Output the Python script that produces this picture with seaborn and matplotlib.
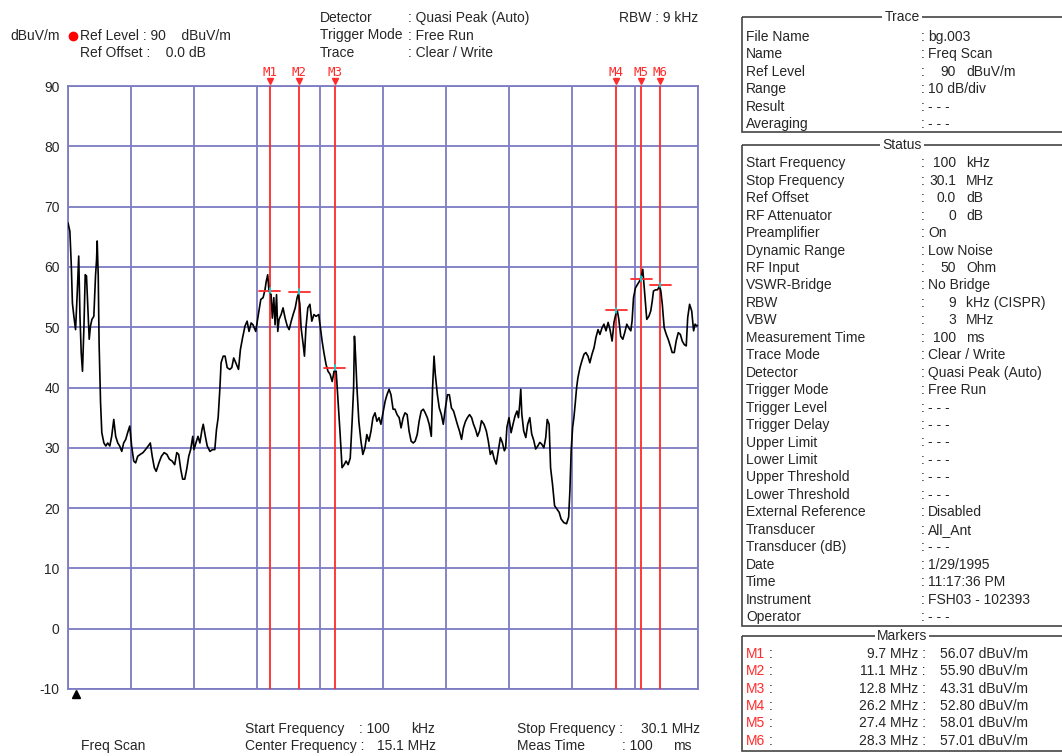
import numpy as np
import pandas as pd
import matplotlib
matplotlib.use("Agg")
import matplotlib.pyplot as plt
from matplotlib.patches import Rectangle
import seaborn as sns

# trace, (frequency MHz, level dBuV/m)
trace_low = [(0.10, 67.3), (0.19, 65.9), (0.26, 60.0), (0.31, 54.0), (0.38, 51.8), (0.46, 49.6), (0.54, 55.7),
             (0.61, 61.8), (0.67, 51.8), (0.73, 45.7), (0.79, 42.7), (0.86, 50.2), (0.92, 58.7), (0.98, 58.5),
             (1.05, 53.0), (1.11, 48.0), (1.17, 50.2), (1.24, 51.3), (1.33, 51.8), (1.41, 58.5), (1.46, 61.2),
             (1.49, 64.3), (1.54, 58.5), (1.58, 47.4), (1.65, 37.5), (1.71, 32.5), (1.81, 30.8), (1.90, 30.3),
             (1.99, 30.8), (2.09, 30.3), (2.18, 31.9), (2.28, 34.7), (2.37, 31.9), (2.47, 30.8), (2.56, 30.3),
             (2.66, 29.4), (2.75, 30.8), (2.85, 31.4), (2.94, 32.5), (3.04, 33.6), (3.13, 30.3), (3.23, 27.8),
             (3.32, 27.5), (3.42, 28.6), (3.54, 28.9), (3.67, 29.2), (3.79, 29.7), (3.92, 30.3), (4.02, 30.8),
             (4.11, 28.6), (4.21, 26.7), (4.30, 26.1), (4.43, 27.5), (4.55, 28.6), (4.68, 29.2), (4.81, 28.9),
             (4.93, 28.1), (5.06, 27.8), (5.18, 27.2), (5.28, 29.2), (5.37, 28.9), (5.47, 26.4), (5.56, 24.8),
             (5.66, 24.8), (5.75, 26.4), (5.85, 28.6), (5.94, 29.7), (6.04, 31.9), (6.10, 29.7), (6.19, 30.8),
             (6.29, 31.9), (6.38, 30.8), (6.48, 33.0), (6.54, 33.9), (6.64, 31.9), (6.73, 30.3), (6.86, 29.4),
             (6.98, 29.7), (7.09, 29.7), (7.17, 33.0), (7.25, 35.0), (7.33, 39.7), (7.39, 44.1), (7.49, 45.2),
             (7.58, 45.2), (7.68, 43.3), (7.80, 43.0), (7.90, 43.3), (7.99, 44.9), (8.09, 44.1), (8.22, 43.0),
             (8.31, 46.3), (8.41, 48.2), (8.53, 50.2), (8.63, 51.0), (8.72, 49.3), (8.82, 50.7), (8.91, 50.4),
             (9.04, 49.3), (9.15, 51.8)]
trace_mid = [(9.28, 54.6), (9.39, 54.9), (9.48, 56.2), (9.54, 57.6), (9.61, 58.7), (9.67, 56.0), (9.77, 55.4),
             (9.83, 51.5), (9.90, 54.9), (9.96, 50.4), (10.03, 55.4), (10.09, 49.3), (10.15, 51.3), (10.25, 52.1),
             (10.34, 53.2), (10.44, 51.5), (10.54, 50.2), (10.63, 49.6), (10.73, 51.0), (10.82, 52.1), (10.92, 53.2),
             (11.01, 54.9), (11.07, 55.5), (11.14, 53.8), (11.20, 49.9), (11.30, 47.1), (11.36, 45.2), (11.43, 49.9),
             (11.52, 53.2), (11.62, 53.8), (11.71, 51.0), (11.81, 52.1), (11.91, 51.8), (12.04, 52.1), (12.10, 50.4),
             (12.20, 47.7), (12.29, 45.7), (12.39, 43.8), (12.48, 42.7), (12.58, 42.2), (12.68, 41.0), (12.77, 42.7),
             (12.87, 42.7), (12.96, 37.7), (13.06, 32.2), (13.15, 26.7), (13.25, 27.2), (13.34, 27.8), (13.44, 27.2),
             (13.54, 28.3), (13.63, 34.4), (13.70, 39.9), (13.74, 48.5), (13.79, 45.5), (13.86, 39.9), (13.95, 34.4),
             (14.05, 31.1), (14.14, 28.9), (14.24, 30.0), (14.33, 32.2), (14.43, 31.1), (14.53, 32.8), (14.62, 35.0),
             (14.72, 35.8), (14.81, 34.4), (14.91, 35.0), (15.00, 33.9), (15.10, 35.8), (15.20, 37.7), (15.29, 38.8),
             (15.39, 39.7), (15.48, 38.8), (15.58, 36.4), (15.67, 36.4), (15.77, 35.5), (15.87, 35.0), (15.96, 33.3),
             (16.06, 35.0), (16.15, 35.8), (16.25, 35.5), (16.34, 32.8), (16.44, 31.1), (16.54, 30.8), (16.63, 31.1),
             (16.73, 32.2), (16.82, 34.4), (16.92, 36.1), (17.02, 36.4), (17.11, 35.8), (17.21, 35.0), (17.30, 33.9),
             (17.40, 31.9), (17.46, 39.9), (17.53, 45.2), (17.59, 42.2), (17.69, 38.8), (17.78, 36.6), (17.88, 35.5),
             (17.97, 33.9), (18.07, 36.6), (18.17, 38.8), (18.26, 38.8), (18.36, 36.6), (18.46, 36.1), (18.55, 35.0),
             (18.64, 33.9), (18.74, 32.8), (18.84, 31.4), (18.93, 33.3), (19.03, 34.4), (19.12, 35.0), (19.22, 35.5),
             (19.32, 35.0), (19.41, 33.9), (19.51, 33.0), (19.60, 31.9), (19.70, 32.8)]
trace_high = [(19.79, 34.5), (19.91, 33.9), (20.02, 32.8), (20.11, 31.2), (20.21, 28.9), (20.30, 29.5), (20.40, 28.1),
              (20.49, 27.3), (20.59, 29.5), (20.69, 31.7), (20.78, 30.9), (20.88, 29.5), (20.94, 30.0), (21.00, 33.4),
              (21.10, 35.0), (21.20, 32.5), (21.29, 33.9), (21.39, 35.3), (21.48, 36.1), (21.55, 35.0), (21.61, 37.2),
              (21.66, 39.7), (21.71, 35.6), (21.80, 32.8), (21.90, 31.7), (21.99, 33.9), (22.09, 35.0), (22.18, 32.3),
              (22.28, 31.2), (22.37, 29.8), (22.47, 30.3), (22.57, 30.9), (22.66, 30.6), (22.76, 30.0), (22.85, 31.7),
              (22.92, 34.7), (23.01, 33.9), (23.08, 26.7), (23.17, 24.0), (23.27, 20.4), (23.39, 19.8), (23.49, 19.3),
              (23.58, 18.2), (23.71, 17.6), (23.84, 17.4), (23.94, 18.5), (24.00, 22.9), (24.06, 29.5), (24.13, 33.4),
              (24.19, 35.0), (24.25, 37.2), (24.32, 40.0), (24.38, 41.6), (24.48, 43.3), (24.57, 44.4), (24.67, 45.5),
              (24.76, 45.8), (24.86, 45.2), (24.95, 44.1), (25.05, 45.5), (25.15, 46.6), (25.24, 48.3), (25.34, 49.6),
              (25.43, 48.8), (25.53, 49.9), (25.62, 50.5), (25.72, 49.4), (25.82, 50.8), (25.91, 49.6), (26.01, 47.7),
              (26.10, 50.8), (26.20, 52.4), (26.26, 52.7), (26.33, 51.3), (26.42, 48.5), (26.52, 48.0), (26.61, 49.1),
              (26.71, 50.5), (26.80, 49.9), (26.90, 49.4), (26.96, 51.0), (27.03, 54.9), (27.12, 56.5), (27.22, 57.1),
              (27.31, 57.6), (27.41, 58.5), (27.47, 59.6), (27.54, 56.5), (27.60, 53.8), (27.66, 51.3), (27.76, 51.8),
              (27.85, 52.7), (27.92, 54.3), (27.98, 56.0), (28.08, 56.2), (28.17, 56.2), (28.27, 56.8), (28.33, 56.0),
              (28.40, 53.8), (28.49, 49.9), (28.59, 48.8), (28.68, 48.0), (28.78, 46.9), (28.87, 45.8), (28.97, 45.8),
              (29.06, 47.7), (29.16, 49.1), (29.26, 48.8), (29.35, 47.7), (29.45, 47.1), (29.54, 46.9), (29.61, 51.6),
              (29.70, 53.8), (29.80, 52.7), (29.89, 49.4), (29.96, 50.5), (30.05, 50.2), (30.10, 50.3)]

marker_names = ['M1', 'M2', 'M3', 'M4', 'M5', 'M6']
marker_freq = [9.7, 11.1, 12.8, 26.2, 27.4, 28.3]
marker_level = [56.07, 55.90, 43.31, 52.80, 58.01, 57.01]
marker_freq_txt = ['9.7 MHz :', '11.1 MHz :', '12.8 MHz :', '26.2 MHz :', '27.4 MHz :', '28.3 MHz :']
marker_level_txt = ['56.07 dBuV/m', '55.90 dBuV/m', '43.31 dBuV/m', '52.80 dBuV/m', '58.01 dBuV/m', '57.01 dBuV/m']

y_ticks = [-10, 0, 10, 20, 30, 40, 50, 60, 70, 80, 90]

trace_labels = ['File Name', 'Name', 'Ref Level', 'Range', 'Result', 'Averaging']
trace_values = ['bg.003', 'Freq Scan', '90', '10 dB/div', '- - -', '- - -']
trace_units = ['', '', 'dBuV/m', '', '', '']

status_labels = ['Start Frequency', 'Stop Frequency', 'Ref Offset', 'RF Attenuator', 'Preamplifier',
                 'Dynamic Range', 'RF Input', 'VSWR-Bridge', 'RBW', 'VBW', 'Measurement Time', 'Trace Mode',
                 'Detector', 'Trigger Mode', 'Trigger Level', 'Trigger Delay', 'Upper Limit', 'Lower Limit',
                 'Upper Threshold', 'Lower Threshold', 'External Reference', 'Transducer', 'Transducer (dB)',
                 'Date', 'Time', 'Instrument', 'Operator']
status_values = ['100', '30.1', '0.0', '0', 'On', 'Low Noise', '50', 'No Bridge', '9', '3', '100',
                 'Clear / Write', 'Quasi Peak (Auto)', 'Free Run', '- - -', '- - -', '- - -', '- - -',
                 '- - -', '- - -', 'Disabled', 'All_Ant', '- - -', '1/29/1995', '11:17:36 PM',
                 'FSH03 - 102393', '- - -']
status_units = ['kHz', 'MHz', 'dB', 'dB', '', '', 'Ohm', '', 'kHz (CISPR)', 'MHz', 'ms', '', '', '', '',
                '', '', '', '', '', '', '', '', '', '', '', '']

grid_col = '#7c7cc4'
red = '#ff2a2a'

sns.set_style("white")
plt.rcParams['font.family'] = ['Liberation Sans', 'DejaVu Sans']
plt.rcParams['axes.unicode_minus'] = False

W, H = 1062, 756
fig = plt.figure(figsize=(W / 100, H / 100), dpi=100)
ax = fig.add_axes([68 / W, 1 - 689 / H, 630 / W, 603 / H])

trace = pd.DataFrame(trace_low + trace_mid + trace_high, columns=['freq', 'level'])
sns.lineplot(data=trace, x='freq', y='level', ax=ax, color='black', lw=1.2, estimator=None, sort=False, zorder=4)

ax.set_xlim(0.1, 30.1)
ax.set_ylim(-10, 90)
ax.set_xticks([0.1 + 3 * i for i in range(11)])
ax.set_yticks(y_ticks)
ax.grid(True, color=grid_col, lw=1.3)
for s in ax.spines.values():
    s.set_color(grid_col)
    s.set_linewidth(1.3)
ax.tick_params(axis='x', length=0, labelbottom=False)
ax.tick_params(axis='y', length=0, pad=6, labelsize=10)
ax.set_xlabel('')
ax.set_ylabel('')

# marker lines, level bars and labels
xt = ax.get_xaxis_transform()
for name, f, lvl in zip(marker_names, marker_freq, marker_level):
    ax.axvline(f, color=red, lw=1.3, zorder=3)
    ax.plot([f - 0.5, f + 0.5], [lvl, lvl], color=red, lw=1.3, zorder=5)
    ax.plot([f, f], [lvl - 0.4, lvl + 0.4], color='#00e0e0', lw=1.2, zorder=6)
    ax.text(f, 1.022, name, transform=xt, ha='center', va='center', color=red,
            family='DejaVu Sans Mono', fontsize=9, clip_on=False)
    ax.plot(f, 1.008, marker='v', ms=5, color=red, transform=xt, clip_on=False)

ax.plot(0.012, -0.008, marker='^', ms=6, color='black', transform=ax.transAxes, clip_on=False)

# texts around the plot, in pixel coordinates
ov = fig.add_axes([0, 0, 1, 1])
ov.set_xlim(0, W)
ov.set_ylim(H, 0)
ov.axis('off')


def txt(x, y, s, **kw):
    ov.text(x, y, s, va='center', fontsize=10, **kw)


txt(10, 36, 'dBuV/m')
ov.plot(73, 36, 'o', color='red', ms=6)
txt(80, 36, 'Ref Level : 90    dBuV/m')
txt(80, 53, 'Ref Offset :    0.0 dB')
for i, (lab, val) in enumerate(zip(['Detector', 'Trigger Mode', 'Trace'],
                                   [': Quasi Peak (Auto)', ': Free Run', ': Clear / Write'])):
    txt(320, 18 + 17.5 * i, lab)
    txt(408, 18 + 17.5 * i, val)
txt(698, 18, 'RBW : 9 kHz', ha='right')

txt(81, 746, 'Freq Scan')
txt(245, 729, 'Start Frequency')
txt(359, 729, ': 100')
txt(411, 729, 'kHz')
txt(245, 746, 'Center Frequency :')
txt(377, 746, '15.1 MHz')
txt(517, 729, 'Stop Frequency :')
txt(700, 729, '30.1 MHz', ha='right')
txt(517, 746, 'Meas Time')
txt(622, 746, ': 100')
txt(673, 746, 'ms')


def box(top, bottom, title):
    ov.add_patch(Rectangle((742, top), 340, bottom - top, fill=False, ec='#444444', lw=1.2))
    ov.text(902, top, title, ha='center', va='center', fontsize=10,
            bbox=dict(facecolor='white', edgecolor='none', pad=1.5))


def rows(y0, step, labels, values, units):
    for i, (lab, val, unit) in enumerate(zip(labels, values, units)):
        y = y0 + step * i
        txt(746, y, lab)
        txt(921, y, ':')
        if unit:
            txt(956, y, val, ha='right')
            txt(966, y, unit)
        else:
            txt(928, y, val)


box(17, 132, 'Trace')
rows(36.7, 17.5, trace_labels, trace_values, trace_units)
box(145, 626, 'Status')
rows(163.3, 17.45, status_labels, status_values, status_units)
box(636, 751, 'Markers')
for i, name in enumerate(marker_names):
    y = 654 + 17.35 * i
    txt(746, y, name, color=red)
    txt(769, y, ':')
    txt(926, y, marker_freq_txt[i], ha='right')
    txt(940, y, marker_level_txt[i])

fig.savefig('out.png', dpi=100)
